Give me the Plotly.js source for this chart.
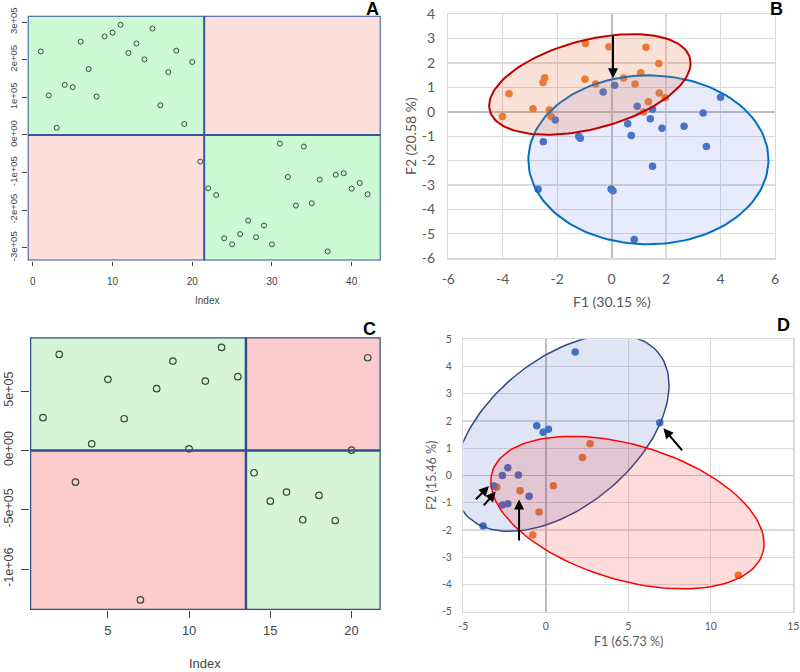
<!DOCTYPE html>
<html><head><meta charset="utf-8">
<script src="https://cdn.plot.ly/plotly-3.0.1.min.js"></script>
<style>html,body{margin:0;padding:0;background:#fff}#chart{width:800px;height:672px}</style>
</head><body><div id="chart"></div>
<script>
// ---------- Panel A (R index plot) ----------
const aIndex = [1,2,3,4,5,6,7,8,9,10,11,12,13,14,15,16,17,18,19,20,21,22,23,24,25,26,27,28,29,30,31,32,33,34,35,36,37,38,39,40,41,42];
const aValues = [222000,105000,19000,133000,127000,248000,175000,102000,262000,272000,293000,218000,243000,201000,283000,79000,167000,224000,29000,194000,
  -71000,-142000,-160000,-275000,-291000,-264000,-228000,-272000,-241000,-291000,-23000,-112000,-188000,-31000,-182000,-119000,-310000,-106000,-102000,-143000,-128000,-158000];
const aXTicks = [0,10,20,30,40];
const aYTicks = [-300000,-200000,-100000,0,100000,200000,300000];
const aYTickText = ['-3e+05','-2e+05','-1e+05','0e+00','1e+05','2e+05','3e+05'];
const aSplit = [21.5, 0];

// ---------- Panel B (PCA scores) ----------
const bOrangeX = [-4.01,-3.77,-2.89,-2.52,-2.46,-2.29,-2.22,-0.96,-0.98,-0.59,-0.10,1.26,1.73,1.07,0.44,0.86,1.75,1.97,1.35,1.17];
const bOrangeY = [-0.20,0.74,0.12,1.20,1.39,0.07,-0.20,2.80,1.33,1.14,2.66,2.64,1.98,1.60,1.38,1.14,0.77,0.57,0.41,-0.01];
const bBlueX = [-2.07,-2.51,-1.21,-1.15,-0.31,0.11,0.94,1.50,1.42,0.59,0.72,1.85,2.66,3.36,4.00,3.48,1.50,-0.02,0.05,0.83,-2.70];
const bBlueY = [-0.34,-1.23,-1.00,-1.09,0.81,1.09,0.23,0.10,-0.29,-0.49,-0.97,-0.68,-0.59,-0.05,0.59,-1.42,-2.23,-3.16,-3.24,-5.23,-3.18];
// ellipse: [centerX, centerY, halfWidthX, halfHeightY, phaseDeg]
const bRedEllipse = [-0.80, 1.12, 3.70, 2.06, 65];
const bBlueEllipse = [1.35, -1.97, 4.41, 3.46, 90];
const bArrow = [0.05, 1.37, 0.05, 3.17]; // tipX, tipY, tailX, tailY
const bXTicks = [-6,-4,-2,0,2,4,6];
const bXTickText = ['-6','-4','-2','0','2','4','6'];
const bYTicks = [-6,-5,-4,-3,-2,-1,0,1,2,3,4];
const bYTickText = ['-6','-5','-4','-3','-2','-1','0','1','2','3','4'];

// ---------- Panel C (R index plot) ----------
const cIndex = [1,2,3,4,5,6,7,8,9,10,11,12,13,14,15,16,17,18,19,20,21];
const cValues = [276000,809000,-267000,56000,599000,267000,-1259000,520000,753000,14000,584000,868000,621000,-188000,-427000,-351000,-584000,-379000,-590000,2000,781000];
const cXTicks = [5,10,15,20];
const cYTicks = [-1000000,-500000,0,500000];
const cYTickText = ['-1e+06','-5e+05','0e+00','5e+05'];
const cSplit = [13.5, 0];

// ---------- Panel D (PCA scores) ----------
const dBlueX = [1.78,-0.55,-0.16,0.16,6.91,-3.80,-2.30,-2.63,-1.66,-3.15,-2.63,-2.30,-1.01];
const dBlueY = [4.53,1.83,1.59,1.70,1.94,-1.85,0.28,0.00,0.02,-0.39,-1.08,-1.04,-0.76];
const dOrangeX = [2.68,2.22,0.46,-2.97,-1.56,-0.41,-0.79,11.67];
const dOrangeY = [1.17,0.66,-0.38,-0.43,-0.56,-1.34,-2.18,-3.66];
const dBlueEllipse = [0.95, 1.56, 6.52, 3.61, 61];
const dRedEllipse = [4.95, -1.36, 8.28, 2.80, 114];
const dArrows = [[7.13,1.73,8.34,0.87],[-3.44,-0.39,-4.33,-0.93],[-3.03,-0.59,-3.84,-1.15],[-1.62,-0.88,-1.62,-2.44]];
const dXTicks = [-5,0,5,10,15];
const dXTickText = ['-5','0','5','10','15'];
const dYTicks = [-5,-4,-3,-2,-1,0,1,2,3,4,5];
const dYTickText = ['-5','-4','-3','-2','-1','0','1','2','3','4','5'];

// ---------- helpers ----------
function rRange(v){const mn=Math.min(...v),mx=Math.max(...v),p=0.04*(mx-mn);return [mn-p,mx+p];}
function ellipsePts(p){const [cx,cy,W,H,dd]=p;const d=dd*Math.PI/180;const xs=[],ys=[];
  for(let i=0;i<=144;i++){const t=2*Math.PI*i/144;xs.push(cx+W*Math.cos(t));ys.push(cy+H*Math.cos(t-d));}return {x:xs,y:ys};}
const W=800,H=672;
const px=v=>v/W, py=v=>1-v/H;

const aXR = rRange(aIndex), aYR = rRange(aValues);
const cXR = rRange(cIndex), cYR = rRange(cValues);

const rFont = 'Liberation Sans, Arial, sans-serif';
const xlFont = 'Lato, Open Sans, sans-serif';

const traces = [];
traces.push({x:aIndex,y:aValues,xaxis:'x',yaxis:'y',type:'scatter',mode:'markers',
  marker:{symbol:'circle-open',size:5,color:'#3a4a3a',line:{width:1}},hoverinfo:'skip'});
traces.push({x:cIndex,y:cValues,xaxis:'x3',yaxis:'y3',type:'scatter',mode:'markers',
  marker:{symbol:'circle-open',size:6.5,color:'#3a4a3a',line:{width:1.2}},hoverinfo:'skip'});

traces.push({x:bOrangeX,y:bOrangeY,xaxis:'x2',yaxis:'y2',type:'scatter',mode:'markers',
  marker:{size:7.5,color:'#ED7D31'},hoverinfo:'skip'});
traces.push({x:bBlueX,y:bBlueY,xaxis:'x2',yaxis:'y2',type:'scatter',mode:'markers',
  marker:{size:7.5,color:'#4472C4'},hoverinfo:'skip'});
const be = ellipsePts(bBlueEllipse), re = ellipsePts(bRedEllipse);
traces.push({x:be.x,y:be.y,xaxis:'x2',yaxis:'y2',type:'scatter',mode:'lines',fill:'toself',
  fillcolor:'rgba(100,120,235,0.15)',line:{color:'#0070C0',width:2},hoverinfo:'skip'});
traces.push({x:re.x,y:re.y,xaxis:'x2',yaxis:'y2',type:'scatter',mode:'lines',fill:'toself',
  fillcolor:'rgba(237,110,60,0.2)',line:{color:'#C00000',width:2},hoverinfo:'skip'});

traces.push({x:dOrangeX,y:dOrangeY,xaxis:'x4',yaxis:'y4',type:'scatter',mode:'markers',
  marker:{size:7.5,color:'#ED7D31'},hoverinfo:'skip'});
traces.push({x:dBlueX,y:dBlueY,xaxis:'x4',yaxis:'y4',type:'scatter',mode:'markers',
  marker:{size:7.5,color:'#4472C4'},hoverinfo:'skip'});
const dbe = ellipsePts(dBlueEllipse), dre = ellipsePts(dRedEllipse);
traces.push({x:dbe.x,y:dbe.y,xaxis:'x4',yaxis:'y4',type:'scatter',mode:'lines',fill:'toself',
  fillcolor:'rgba(68,100,190,0.17)',line:{color:'#2F4B8C',width:1.5},hoverinfo:'skip'});
traces.push({x:dre.x,y:dre.y,xaxis:'x4',yaxis:'y4',type:'scatter',mode:'lines',fill:'toself',
  fillcolor:'rgba(255,40,40,0.16)',line:{color:'#FF0000',width:1.5},hoverinfo:'skip'});

// background quadrant shapes for R panels
function quadShapes(xr,yr,split,xa,ya,green,pink,border,bw){
  const [sx,sy]=split; const s=[];
  const rect=(x0,x1,y0,y1,c)=>({type:'rect',xref:xa,yref:ya,x0,x1,y0,y1,fillcolor:c,line:{width:0},layer:'below'});
  s.push(rect(xr[0],sx,sy,yr[1],green));
  s.push(rect(sx,xr[1],sy,yr[1],pink));
  s.push(rect(xr[0],sx,yr[0],sy,pink));
  s.push(rect(sx,xr[1],yr[0],sy,green));
  s.push({type:'line',xref:xa,yref:ya,x0:sx,x1:sx,y0:yr[0],y1:yr[1],line:{color:border,width:bw}});
  s.push({type:'line',xref:xa,yref:ya,x0:xr[0],x1:xr[1],y0:sy,y1:sy,line:{color:border,width:bw}});
  s.push({type:'rect',xref:xa,yref:ya,x0:xr[0],x1:xr[1],y0:yr[0],y1:yr[1],line:{color:border,width:bw},fillcolor:'rgba(0,0,0,0)'});
  return s;
}
const shapes = [].concat(
  quadShapes(aXR,aYR,aSplit,'x','y','#CCFAD4','#FDE0DC','#34589A',2),
  quadShapes(cXR,cYR,cSplit,'x3','y3','#D6F4D6','#FCCBCB','#2E4F8E',2.5)
);

const annotations = [];
function lab(t,x,y,size,opts){annotations.push(Object.assign({text:t,x:px(x),y:py(y),xref:'paper',yref:'paper',showarrow:false,xanchor:'center',yanchor:'middle',font:{size:size,family:rFont,color:'#000'}},opts||{}));}
lab('<b>A</b>',372.5,8.5,18);
lab('<b>B</b>',776.5,8.5,18);
lab('<b>C</b>',369,328.5,18);
lab('<b>D</b>',783,325,18);
lab('Index',207,300,10,{font:{size:10,family:rFont,color:'#444'}});
lab('Index',205,663.5,13,{font:{size:13,family:rFont,color:'#444'}});
lab('F1 (30.15 %)',612,301.5,14,{font:{size:14,family:xlFont,color:'#595959'}});
lab('F2 (20.58 %)',411,136,14,{font:{size:14,family:xlFont,color:'#595959'},textangle:-90});
lab('F1 (65.73 %)',628,641.5,12.5,{font:{size:12.5,family:xlFont,color:'#595959'}});
lab('F2 (15.46 %)',431,475,12.5,{font:{size:12.5,family:xlFont,color:'#595959'},textangle:-90});

function arrow(a,xa,ya,w){annotations.push({text:'',x:a[0],y:a[1],ax:a[2],ay:a[3],xref:xa,yref:ya,axref:xa,ayref:ya,
  showarrow:true,arrowhead:2,arrowsize:1,arrowwidth:w,arrowcolor:'#000',standoff:0,startstandoff:0});}
arrow(bArrow,'x2','y2',2);
dArrows.forEach(a=>arrow(a,'x4','y4',2));

const rAxisBase = {showgrid:false,zeroline:false,showline:false,ticks:'outside',tickcolor:'#444',fixedrange:true};
const xlAxisBase = {showgrid:true,gridcolor:'#D9D9D9',gridwidth:1.3,zeroline:true,zerolinecolor:'#BFBFBF',zerolinewidth:1.8,
  showline:true,mirror:true,linecolor:'#D9D9D9',linewidth:1.3,ticks:'',fixedrange:true};

const layout = {
  width:W,height:H,margin:{l:0,r:0,t:0,b:0},paper_bgcolor:'#fff',plot_bgcolor:'rgba(0,0,0,0)',showlegend:false,
  shapes:shapes,annotations:annotations,
  xaxis:Object.assign({},rAxisBase,{domain:[px(27.7),px(380.7)],anchor:'y',range:aXR,tickvals:aXTicks,ticklen:4,
    tickfont:{size:10,family:rFont,color:'#444'},ticklabelstandoff:7}),
  yaxis:Object.assign({},rAxisBase,{domain:[py(260.5),py(15.7)],anchor:'x',range:aYR,tickvals:aYTicks,ticktext:aYTickText,
    tickangle:-90,ticklen:5,tickfont:{size:9.5,family:rFont,color:'#444'},ticklabelstandoff:1}),
  xaxis3:Object.assign({},rAxisBase,{domain:[px(30),px(380.7)],anchor:'y3',range:cXR,tickvals:cXTicks,ticklen:7,
    tickfont:{size:13,family:rFont,color:'#444'},ticklabelstandoff:1}),
  yaxis3:Object.assign({},rAxisBase,{domain:[py(610),py(337.3)],anchor:'x3',range:cYR,tickvals:cYTicks,ticktext:cYTickText,
    tickangle:-90,ticklen:8,tickfont:{size:12.5,family:rFont,color:'#444'},ticklabelstandoff:3}),
  xaxis2:Object.assign({},xlAxisBase,{domain:[px(448.3),px(775)],anchor:'y2',range:[-6,6],tickvals:bXTicks,ticktext:bXTickText,
    tickfont:{size:14,family:xlFont,color:'#595959'},ticklabelstandoff:8}),
  yaxis2:Object.assign({},xlAxisBase,{domain:[py(258.2),py(14.1)],anchor:'x2',range:[-6,4],tickvals:bYTicks,ticktext:bYTickText,
    tickfont:{size:14,family:xlFont,color:'#595959'},ticklabelstandoff:9}),
  xaxis4:Object.assign({},xlAxisBase,{domain:[px(463.3),px(793.3)],anchor:'y4',range:[-5,15],tickvals:dXTicks,ticktext:dXTickText,
    tickfont:{size:10.5,family:xlFont,color:'#595959'},ticklabelstandoff:4}),
  yaxis4:Object.assign({},xlAxisBase,{domain:[py(611.7),py(339.3)],anchor:'x4',range:[-5,5],tickvals:dYTicks,ticktext:dYTickText,
    tickfont:{size:10.5,family:xlFont,color:'#595959'},ticklabelstandoff:8})
};
Plotly.newPlot('chart',traces,layout,{staticPlot:true,displayModeBar:false});
</script></body></html>
